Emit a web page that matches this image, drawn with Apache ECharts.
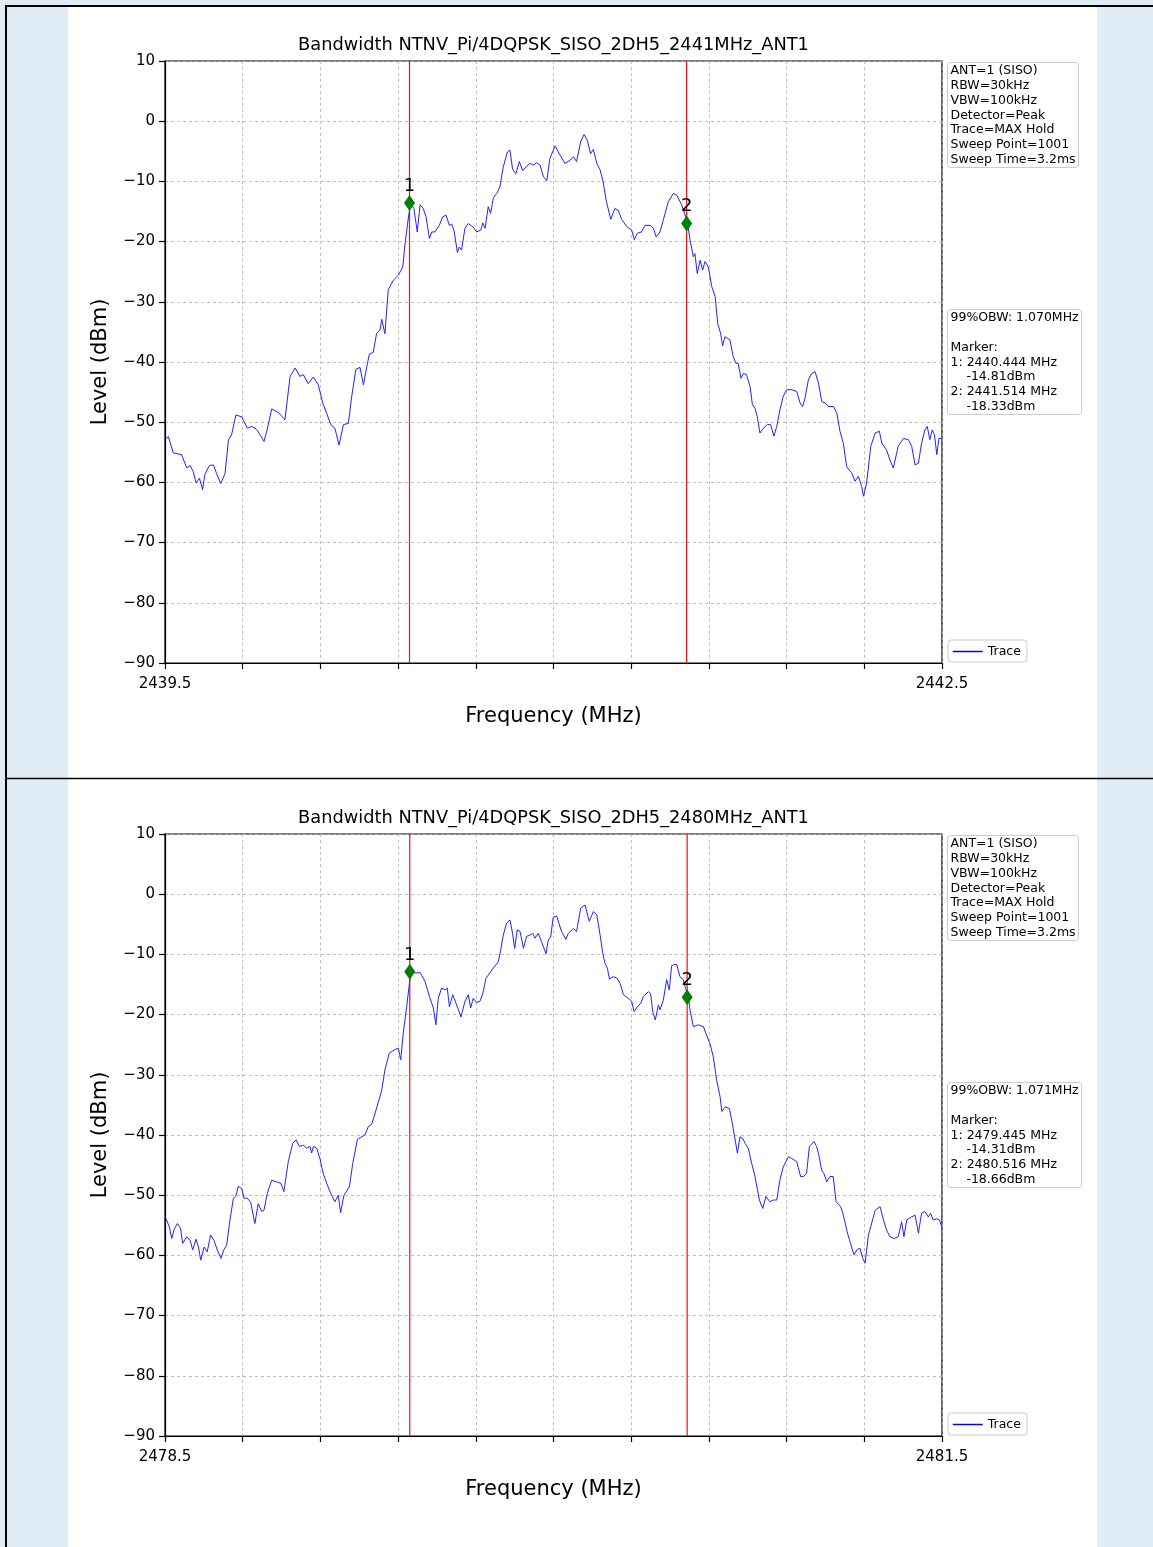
<!DOCTYPE html>
<html>
<head>
<meta charset="utf-8">
<script src="https://cdn.jsdelivr.net/npm/echarts@6/dist/echarts.min.js"></script>
<style>
html,body{margin:0;padding:0;background:#fff;}
#main{width:1153px;height:1547px;}
</style>
</head>
<body>
<div id="main"></div>
<script>
// ---------------- DATA ----------------
const topTitle = "Bandwidth NTNV_Pi/4DQPSK_SISO_2DH5_2441MHz_ANT1";
const botTitle = "Bandwidth NTNV_Pi/4DQPSK_SISO_2DH5_2480MHz_ANT1";

const topXRange = [2439.5, 2442.5];
const botXRange = [2478.5, 2481.5];
const xStep = 0.3;
const yRange = [-90, 10];
const yStep = 10;

const topFreq = [
2439.504,2439.513,2439.532,2439.564,2439.584,2439.597,2439.609,2439.620,2439.633,2439.645,
2439.654,2439.671,2439.687,2439.699,2439.715,2439.732,2439.745,2439.757,2439.774,2439.796,
2439.818,2439.835,2439.854,2439.867,2439.882,2439.893,2439.912,2439.938,2439.963,2439.983,
2440.002,2440.021,2440.034,2440.053,2440.073,2440.092,2440.109,2440.124,2440.140,2440.156,
2440.172,2440.189,2440.208,2440.221,2440.237,2440.253,2440.266,2440.279,2440.289,2440.304,
2440.317,2440.330,2440.337,2440.349,2440.362,2440.382,2440.401,2440.418,2440.427,2440.440,
2440.449,2440.461,2440.474,2440.485,2440.497,2440.508,2440.521,2440.530,2440.542,2440.559,
2440.572,2440.585,2440.598,2440.607,2440.616,2440.629,2440.636,2440.645,2440.658,2440.671,
2440.690,2440.703,2440.719,2440.727,2440.736,2440.748,2440.757,2440.768,2440.781,2440.793,
2440.806,2440.822,2440.832,2440.842,2440.855,2440.868,2440.881,2440.896,2440.909,2440.922,
2440.935,2440.948,2440.961,2440.974,2440.986,2441.006,
2441.012,2441.025,2441.044,2441.064,2441.077,2441.089,2441.105,2441.118,2441.131,2441.143,
2441.154,2441.167,2441.180,2441.192,2441.203,2441.221,2441.237,2441.250,2441.263,2441.283,
2441.302,2441.312,2441.324,2441.340,2441.353,2441.373,2441.386,2441.396,2441.411,2441.424,
2441.443,2441.463,2441.476,2441.495,2441.508,2441.518,2441.527,2441.540,2441.546,2441.555,
2441.566,2441.576,2441.585,2441.598,2441.611,2441.624,2441.634,2441.645,2441.653,2441.662,
2441.681,2441.694,2441.704,2441.713,2441.724,2441.733,2441.745,2441.759,2441.768,2441.778,
2441.787,2441.797,2441.810,2441.826,2441.838,2441.851,2441.862,2441.874,2441.887,2441.900,
2441.919,2441.939,2441.952,2441.962,2441.971,2441.984,2441.997,2442.010,2442.023,2442.036,
2442.049,2442.061,2442.081,2442.094,2442.106,2442.119,2442.132,2442.152,2442.164,2442.177,
2442.190,2442.197,2442.209,2442.225,2442.242,2442.258,2442.268,2442.286,2442.299,2442.312,
2442.331,2442.351,2442.370,2442.383,2442.396,2442.409,2442.421,2442.434,2442.443,2442.453,
2442.462,2442.471,2442.480,2442.488,2442.497
];
const topLevel = [
-52.7,-52.4,-55.1,-55.4,-57.6,-57.2,-58.2,-60.1,-59.3,-61.2,
-58.7,-57.2,-57.1,-58.5,-60.2,-58.5,-52.9,-52.1,-48.8,-49.1,
-51.0,-50.7,-51.2,-52.1,-53.2,-51.5,-47.8,-48.4,-49.6,-42.4,
-41.0,-42.4,-42.1,-43.6,-42.5,-43.8,-46.8,-48.5,-50.4,-51.0,
-53.8,-50.4,-50.2,-45.7,-41.2,-40.9,-43.8,-40.8,-38.7,-38.4,
-35.2,-34.7,-32.9,-35.3,-28.0,-26.4,-25.6,-24.2,-20.3,-15.9,
-13.6,-14.5,-18.4,-13.9,-14.5,-15.9,-19.5,-18.4,-18.4,-17.3,
-15.9,-15.6,-17.3,-17.1,-18.2,-21.8,-20.9,-21.4,-17.8,-17.0,
-17.6,-18.4,-18.1,-16.9,-17.8,-14.2,-15.3,-12.7,-12.0,-10.9,
-7.6,-5.1,-4.8,-8.0,-8.7,-6.7,-8.2,-7.5,-7.0,-7.3,
-6.9,-7.3,-9.2,-9.9,-6.2,-4.1,
-4.3,-5.6,-7.0,-6.5,-5.9,-6.7,-3.4,-2.2,-3.2,-5.4,
-4.7,-7.0,-8.1,-10.1,-13.1,-16.3,-14.5,-14.8,-16.3,-17.5,
-18.1,-19.7,-18.6,-18.4,-17.3,-17.3,-17.8,-19.2,-18.4,-16.4,
-13.4,-12.0,-12.3,-13.9,-15.6,-17.0,-19.7,-22.5,-22.0,-25.3,
-23.1,-24.7,-23.3,-24.2,-27.5,-29.1,-33.6,-35.2,-37.3,-35.8,
-36.3,-39.1,-40.2,-40.2,-42.7,-41.9,-42.1,-44.1,-47.1,-47.7,
-49.1,-51.8,-51.0,-50.4,-50.4,-52.3,-50.7,-48.0,-45.7,-44.6,
-44.6,-44.9,-46.8,-47.4,-46.0,-43.0,-41.9,-41.6,-43.5,-46.6,
-46.8,-47.4,-47.4,-48.5,-51.5,-53.5,-57.4,-58.5,-59.8,-59.0,
-60.7,-62.3,-60.1,-54.0,-51.8,-51.5,-53.5,-54.6,-56.3,-57.6,
-54.0,-52.7,-52.9,-54.0,-57.1,-56.8,-53.5,-51.3,-50.7,-52.9,
-51.3,-52.1,-55.4,-52.7,-52.7
];

const botFreq = [
2478.504,2478.517,2478.526,2478.535,2478.548,2478.560,2478.568,2478.584,2478.597,2478.607,
2478.620,2478.629,2478.638,2478.651,2478.663,2478.676,2478.689,2478.702,2478.716,2478.728,
2478.738,2478.751,2478.764,2478.773,2478.783,2478.796,2478.805,2478.818,2478.831,2478.847,
2478.860,2478.873,2478.882,2478.895,2478.912,2478.931,2478.947,2478.959,2478.976,2478.993,
2479.006,2479.019,2479.034,2479.047,2479.060,2479.066,2479.073,2479.086,2479.098,2479.111,
2479.124,2479.140,2479.156,2479.169,2479.178,2479.191,2479.212,2479.225,2479.243,2479.259,
2479.272,2479.285,2479.298,2479.307,2479.324,2479.337,2479.349,2479.366,2479.388,2479.401,
2479.410,2479.420,2479.433,2479.449,2479.469,2479.485,2479.504,2479.521,2479.536,2479.546,
2479.555,2479.568,2479.581,2479.590,2479.598,2479.611,2479.626,2479.643,2479.658,2479.671,
2479.680,2479.690,2479.703,2479.716,2479.727,2479.739,2479.757,2479.774,2479.787,2479.796,
2479.806,2479.819,2479.832,2479.842,2479.850,2479.860,2479.871,2479.884,2479.896,2479.909,
2479.920,2479.929,2479.941,2479.954,2479.971,2479.980,2479.989,2479.999,
2480.012,2480.031,2480.048,2480.057,2480.077,2480.089,2480.105,2480.122,2480.138,2480.154,
2480.167,2480.180,2480.190,2480.199,2480.208,2480.216,2480.229,2480.244,2480.257,2480.270,
2480.289,2480.302,2480.311,2480.324,2480.337,2480.347,2480.366,2480.375,2480.383,2480.393,
2480.405,2480.411,2480.424,2480.437,2480.447,2480.456,2480.465,2480.476,2480.488,2480.501,
2480.508,2480.521,2480.527,2480.540,2480.559,2480.579,2480.591,2480.604,2480.617,2480.630,
2480.643,2480.650,2480.663,2480.679,2480.688,2480.697,2480.710,2480.720,2480.731,2480.740,
2480.752,2480.765,2480.778,2480.795,2480.808,2480.820,2480.836,2480.849,2480.862,2480.874,
2480.887,2480.907,2480.919,2480.939,2480.954,2480.965,2480.977,2480.988,2481.006,2481.016,
2481.026,2481.035,2481.044,2481.055,2481.067,2481.080,2481.091,2481.109,2481.119,2481.135,
2481.151,2481.160,2481.171,2481.183,2481.194,2481.203,2481.216,2481.225,2481.242,2481.261,
2481.274,2481.286,2481.299,2481.315,2481.331,2481.344,2481.353,2481.364,2481.383,2481.396,
2481.409,2481.421,2481.434,2481.447,2481.456,2481.466,2481.479,2481.490,2481.499
];
const botLevel = [
-53.9,-55.3,-57.2,-55.7,-54.7,-55.5,-58.0,-56.9,-57.5,-59.1,
-57.3,-58.6,-60.8,-58.6,-59.4,-56.6,-57.5,-59.1,-60.5,-59.0,
-58.3,-54.1,-50.5,-50.2,-48.5,-48.9,-50.5,-50.5,-51.2,-54.7,
-51.4,-52.7,-52.5,-49.7,-47.5,-47.8,-48.0,-49.4,-44.4,-41.4,
-40.8,-41.9,-41.7,-42.2,-41.9,-43.0,-41.9,-42.2,-43.9,-46.4,
-48.0,-49.7,-51.1,-50.0,-52.9,-50.0,-48.6,-44.7,-40.7,-40.3,
-40.0,-38.6,-38.2,-37.0,-34.5,-32.5,-29.2,-26.4,-25.8,-25.6,
-27.5,-23.1,-18.7,-12.9,-13.1,-13.0,-14.5,-17.0,-18.9,-21.7,
-17.3,-15.6,-15.9,-15.6,-18.7,-16.7,-18.4,-20.4,-17.8,-16.7,
-18.9,-17.3,-18.0,-17.8,-16.5,-14.0,-12.9,-11.9,-11.2,-9.3,
-6.8,-4.8,-4.3,-6.5,-9.0,-5.9,-6.2,-9.0,-7.0,-6.8,
-6.5,-7.3,-6.5,-7.9,-9.9,-7.6,-7.1,-3.8,
-3.6,-6.2,-7.5,-6.5,-5.7,-6.2,-2.3,-1.8,-4.5,-2.9,
-3.4,-6.8,-9.8,-11.5,-12.3,-14.1,-13.7,-13.9,-14.8,-16.7,
-17.3,-17.8,-19.5,-18.7,-18.1,-17.0,-16.2,-16.5,-19.5,-20.9,
-18.4,-19.2,-17.6,-14.2,-15.9,-11.9,-11.7,-11.7,-13.7,-14.2,
-15.3,-17.1,-19.2,-22.0,-21.7,-22.0,-23.4,-24.8,-27.0,-30.9,
-33.6,-36.1,-35.3,-35.6,-37.5,-39.7,-43.0,-40.3,-40.6,-41.4,
-42.2,-44.7,-46.9,-50.8,-52.2,-50.2,-51.1,-50.8,-50.8,-47.5,
-45.3,-43.6,-43.9,-44.4,-46.9,-46.9,-46.4,-41.9,-41.1,-41.9,
-43.6,-45.8,-46.4,-47.8,-46.9,-46.9,-51.1,-51.9,-53.3,-56.3,
-58.6,-59.9,-59.1,-58.8,-60.5,-61.3,-56.6,-55.2,-52.5,-51.9,
-54.1,-55.8,-56.9,-57.2,-56.9,-54.4,-56.9,-54.1,-53.6,-53.3,
-56.3,-53.0,-52.7,-53.6,-53.0,-54.1,-53.9,-54.1,-55.2
];

const topMarkerFreq = [2440.444, 2441.514];
const topMarkerLevel = [-13.6, -17.0];
const botMarkerFreq = [2479.445, 2480.516];
const botMarkerLevel = [-12.9, -17.1];
const markerNames = ["1", "2"];

const settingsLines = ["ANT=1 (SISO)", "RBW=30kHz", "VBW=100kHz", "Detector=Peak", "Trace=MAX Hold", "Sweep Point=1001", "Sweep Time=3.2ms"];
const topObwLines = ["99%OBW: 1.070MHz", "", "Marker:", "1: 2440.444 MHz", "    -14.81dBm", "2: 2441.514 MHz", "    -18.33dBm"];
const botObwLines = ["99%OBW: 1.071MHz", "", "Marker:", "1: 2479.445 MHz", "    -14.31dBm", "2: 2480.516 MHz", "    -18.66dBm"];

// ---------------- CHART ----------------
const FONT = '"DejaVu Sans", "Liberation Sans", sans-serif';
const RED = 'rgb(250,12,12)';
const chart = echarts.init(document.getElementById('main'), null, {renderer: 'canvas'});

const gridLeft = 165, gridW = 777, gridH = 602;
const gridTops = [61, 834];

function fmtMinus(v) { return String(v).replace('-', '\u2212'); }

function xAxisFor(range, gi) {
  return {
    type: 'value', gridIndex: gi, min: range[0], max: range[1], interval: xStep,
    name: 'Frequency (MHz)', nameLocation: 'middle', nameGap: 43,
    nameTextStyle: {fontFamily: FONT, fontSize: 21, color: '#000'},
    axisLine: {show: true, onZero: false, lineStyle: {color: '#000', width: 1.2}},
    axisTick: {show: true, inside: false, length: 6, lineStyle: {color: '#000', width: 1.2}},
    axisLabel: {
      show: true, margin: 14, fontFamily: FONT, fontSize: 15, color: '#000',
      showMinLabel: true, showMaxLabel: true,
      formatter: function (v) {
        if (Math.abs(v - range[0]) < 1e-6 || Math.abs(v - range[1]) < 1e-6) return v.toFixed(1);
        return '';
      }
    },
    splitLine: {show: true, lineStyle: {color: '#b0b0b0', width: 0.8, type: [3, 3]}}
  };
}
function yAxisFor(gi) {
  return {
    type: 'value', gridIndex: gi, min: yRange[0], max: yRange[1], interval: yStep,
    name: 'Level (dBm)', nameLocation: 'middle', nameGap: 54, nameRotate: 90,
    nameTextStyle: {fontFamily: FONT, fontSize: 21, color: '#000'},
    axisLine: {show: true, onZero: false, lineStyle: {color: '#000', width: 1.2}},
    axisTick: {show: true, inside: false, length: 6, lineStyle: {color: '#000', width: 1.2}},
    axisLabel: {show: true, margin: 10, fontFamily: FONT, fontSize: 15, color: '#000', formatter: fmtMinus},
    splitLine: {show: true, lineStyle: {color: '#b0b0b0', width: 0.8, type: [3, 3]}}
  };
}

function traceSeries(freq, level, gi) {
  return {
    type: 'line', name: 'Trace', xAxisIndex: gi, yAxisIndex: gi,
    data: freq.map((f, i) => [f, level[i]]),
    symbol: 'none', showSymbol: false, silent: true,
    lineStyle: {color: '#2222ff', width: 1},
    itemStyle: {color: '#0000ff'},
    emphasis: {disabled: true},
    z: 4
  };
}
// red vertical marker lines drawn through the axis scales (custom series, thin rect)
function markerLineSeries(mFreq, gi) {
  return {
    type: 'custom', name: 'marker-lines', xAxisIndex: gi, yAxisIndex: gi,
    data: mFreq.map(f => [f]),
    silent: true, z: 3,
    renderItem: function (params, api) {
      const p1 = api.coord([api.value(0), yRange[0]]);
      const p2 = api.coord([api.value(0), yRange[1]]);
      return {
        type: 'rect',
        shape: {x: p2[0] - 0.6, y: p2[1], width: 1.2, height: p1[1] - p2[1]},
        style: {fill: RED, stroke: null}
      };
    }
  };
}
function markerSeries(mFreq, mLevel, gi) {
  return {
    type: 'scatter', name: 'Markers', xAxisIndex: gi, yAxisIndex: gi,
    data: mFreq.map((f, i) => ({name: markerNames[i], value: [f, mLevel[i]]})),
    symbol: 'diamond', symbolSize: [11, 16], silent: true, z: 5,
    itemStyle: {color: '#008000', opacity: 1},
    emphasis: {disabled: true},
    label: {show: true, position: 'top', distance: 0, formatter: '{b}', fontFamily: FONT, fontSize: 18, color: '#000'}
  };
}

function infoBox(x, y, w, h, lines) {
  return {
    type: 'group', x: x, y: y, z: 10,
    children: [
      {type: 'rect', shape: {x: 0, y: 0, width: w, height: h, r: 3}, style: {fill: '#fff', stroke: '#cccccc', lineWidth: 1}},
      {type: 'text', x: 3, y: 1, style: {text: lines.join('\n'), font: '12.5px ' + FONT, lineHeight: 14.8, fill: '#000', textVerticalAlign: 'top'}}
    ]
  };
}

function legendFor(top) {
  return {
    data: ['Trace'], left: 948, top: top, orient: 'vertical',
    backgroundColor: '#fff', borderColor: '#cccccc', borderWidth: 1, borderRadius: 3,
    padding: [5, 6, 4, 4], itemWidth: 30, itemHeight: 10,
    textStyle: {fontFamily: FONT, fontSize: 12.5, color: '#000'},
    lineStyle: {width: 1.5, color: '#0000ff'},
    itemStyle: {opacity: 0},
    selectedMode: false
  };
}

const graphics = [
  {type: 'rect', z: -100, silent: true, shape: {x: 0, y: 0, width: 1153, height: 1547}, style: {fill: '#deedf6'}},
  {type: 'rect', z: -99, silent: true, shape: {x: 68, y: 7, width: 1029, height: 1540}, style: {fill: '#ffffff'}},
  {type: 'line', z: -98, silent: true, shape: {x1: 6, y1: 6, x2: 6, y2: 1547}, style: {stroke: '#000', lineWidth: 2}},
  {type: 'line', z: -98, silent: true, shape: {x1: 5, y1: 6, x2: 1153, y2: 6}, style: {stroke: '#000', lineWidth: 2}},
  {type: 'line', z: -98, silent: true, shape: {x1: 5, y1: 778.5, x2: 1153, y2: 778.5}, style: {stroke: '#000', lineWidth: 1.5}},
  {type: 'text', z: 10, x: gridLeft + gridW / 2, y: 45, style: {text: topTitle, font: '17.8px ' + FONT, fill: '#000', textAlign: 'center', textVerticalAlign: 'middle'}},
  {type: 'text', z: 10, x: gridLeft + gridW / 2, y: 818, style: {text: botTitle, font: '17.8px ' + FONT, fill: '#000', textAlign: 'center', textVerticalAlign: 'middle'}},
  infoBox(947.5, 62.5, 131, 105, settingsLines),
  infoBox(947.5, 309.5, 134, 105, topObwLines),
  infoBox(947.5, 835.5, 131, 105, settingsLines),
  infoBox(947.5, 1082.5, 134, 105, botObwLines)
];

const option = {
  animation: false,
  backgroundColor: 'transparent',
  grid: gridTops.map(t => ({left: gridLeft, top: t, width: gridW, height: gridH, show: true, borderColor: '#000', borderWidth: 1.2, backgroundColor: 'transparent', containLabel: false})),
  xAxis: [xAxisFor(topXRange, 0), xAxisFor(botXRange, 1)],
  yAxis: [yAxisFor(0), yAxisFor(1)],
  legend: [legendFor(640), legendFor(1413)],
  series: [
    markerLineSeries(topMarkerFreq, 0),
    traceSeries(topFreq, topLevel, 0),
    markerSeries(topMarkerFreq, topMarkerLevel, 0),
    markerLineSeries(botMarkerFreq, 1),
    traceSeries(botFreq, botLevel, 1),
    markerSeries(botMarkerFreq, botMarkerLevel, 1)
  ],
  graphic: graphics
};
chart.setOption(option);
</script>
</body>
</html>
